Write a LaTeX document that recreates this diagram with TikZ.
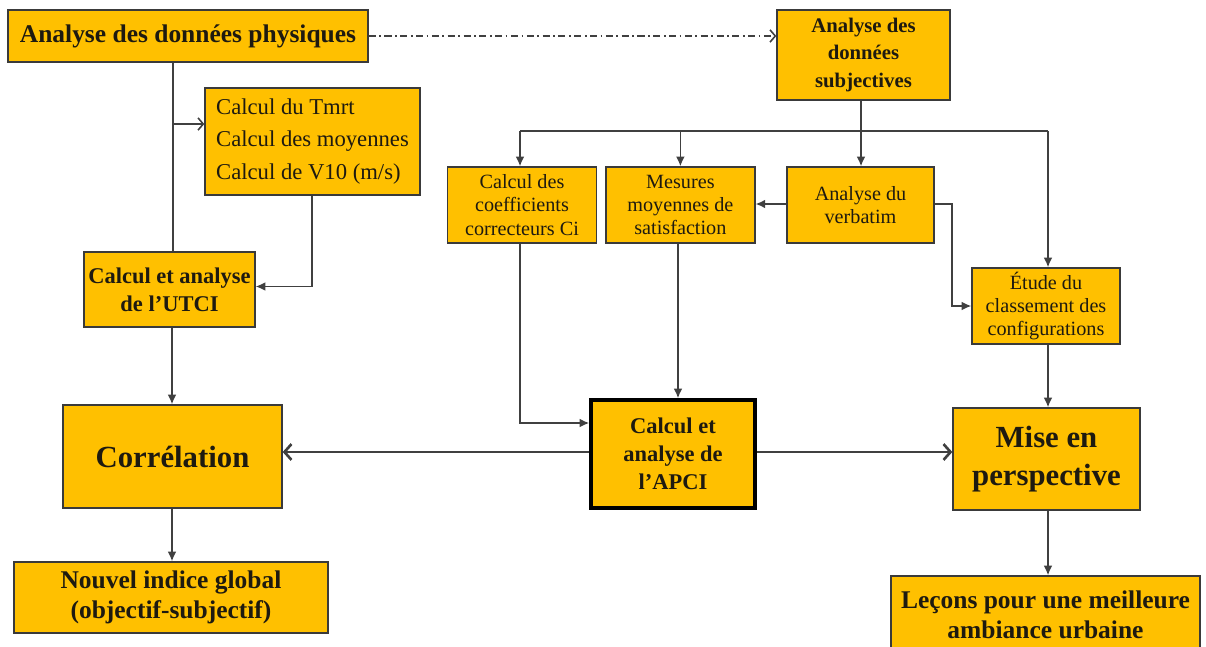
\documentclass[tikz,border=0pt]{standalone}
\usepackage{fontspec}
\setmainfont{Liberation Serif}
\usepackage{xcolor}
\usetikzlibrary{positioning,arrows.meta}

\definecolor{boxfill}{HTML}{FFC000}
\definecolor{boxline}{HTML}{3A3A3A}
\definecolor{linkgray}{HTML}{404040}
\definecolor{inktext}{HTML}{1E1A10}

\newcommand{\fsbig}{\fontsize{17.5}{21.5}\bfseries\selectfont}
\newcommand{\fstitle}{\fontsize{14.5}{16.8}\bfseries\selectfont}
\newcommand{\fsmid}{\fontsize{12.8}{16}\bfseries\selectfont}
\newcommand{\fssub}{\fontsize{11.8}{15.6}\bfseries\selectfont}
\newcommand{\fslist}{\fontsize{12.9}{18.3}\selectfont}
\newcommand{\fssmall}{\fontsize{11.5}{13.3}\selectfont}

\begin{document}
\begin{tikzpicture}[x=0.02cm, y=-0.02cm,
    block/.style={rectangle, draw=boxline, fill=boxfill, text=inktext, align=center, inner sep=2pt, line width=0.8pt},
    small/.style={block, minimum width=2.98cm, minimum height=1.52cm, font=\fssmall},
    link/.style={draw=linkgray, line width=0.9pt, -{Latex[length=5.5pt,width=5pt]}},
    plain/.style={draw=linkgray, line width=0.9pt},
    heavy/.style={draw=linkgray, line width=1.5pt, -{Straight Barb[length=4pt,width=9pt]}}]

    \useasboundingbox (0,0) rectangle (1206,646);
    \clip (0,0) rectangle (1206,646);

    % physical data branch
    \node [block, minimum width=7.2cm, minimum height=1.04cm, font=\fstitle] (phys) at (188,36) {Analyse des données physiques};
    \node [block, align=left, minimum width=4.3cm, minimum height=2.14cm, font=\fslist] (tmrt) at (312.5,141.5) {Calcul du Tmrt\\Calcul des moyennes\\Calcul de V10 (m/s)};
    \node [block, minimum width=3.42cm, minimum height=1.5cm, font=\fsmid] (utci) at (169.5,289.5) {Calcul et analyse\\de l’UTCI};
    \node [block, minimum width=4.38cm, minimum height=2.06cm, font=\fsbig] (corr) at (172.5,456.5) {Corrélation};
    \node [block, minimum width=6.28cm, minimum height=1.42cm, font=\fstitle] (indice) at (171,597.5) {Nouvel indice global\\(objectif-subjectif)};

    % subjective data branch
    \node [block, minimum width=3.46cm, minimum height=1.8cm, font=\fssub] (subj) at (863.5,55) {Analyse des\\données\\subjectives};
    \node [small] (coef) at (522,205) {Calcul des\\coefficients\\correcteurs Ci};
    \node [small, right=0.16cm of coef] (satis) {Mesures\\moyennes de\\satisfaction};
    \node [small, minimum width=2.94cm] (verb) at (860.5,205) {Analyse du\\verbatim};
    \node [small, minimum width=2.96cm] (classe) at (1046,306) {Étude du\\classement des\\configurations};
    \node [block, line width=2pt, draw=black, minimum width=3.28cm, minimum height=2.16cm, font=\fsmid] (apci) at (673,454) {Calcul et\\analyse de\\l’APCI};
    \node [block, minimum width=3.74cm, minimum height=2.04cm, font=\fsbig] (mise) at (1046.5,459) {Mise en\\perspective};
    \node [block, minimum width=6.18cm, minimum height=1.56cm, font=\fstitle] (lecons) at (1045.5,615) {Leçons pour une meilleure\\ambiance urbaine};

    \coordinate (trunk) at (173,124);
    \coordinate (spine) at (172,0);
    \coordinate (fork) at (520,131);
    \coordinate (drop) at (1048,131);
    \coordinate (stem) at (861,0);

    \draw [plain, dash pattern=on 4pt off 2pt on 1pt off 2pt, -{Straight Barb[length=3pt,width=7pt]}] (phys) -- (subj.west |- phys);
    \draw [plain] (phys.south -| trunk) -- (utci.north -| trunk);
    \draw [plain, -{Straight Barb[length=3pt,width=7pt]}] (trunk) -- (trunk -| tmrt.west);
    \draw [link] (tmrt.south -| 312,0) |- ([yshift=0.06cm]utci.east);
    \draw [link] (utci.south -| spine) -- (corr.north -| spine);
    \draw [link] (corr.south -| spine) -- (indice.north -| spine);

    \draw [link] (subj.south -| stem) -- (verb.north -| stem);
    \draw [plain] (fork) -- (drop);
    \draw [link] (fork) -- (fork |- coef.north);
    \draw [link] (fork -| satis) -- (satis);
    \draw [link] (drop) -- (drop |- classe.north);
    \draw [link] (verb.west |- 0,204) -- (satis.east |- 0,204);
    \draw [link] (verb.east |- 0,204) -- (952,204) |- (classe.west);
    \draw [link] (coef.south -| fork) |- (apci.west |- 0,423);
    \draw [link] (satis.south -| 678,0) -- (apci.north -| 678,0);
    \draw [link] (classe.south -| drop) -- (mise.north -| drop);
    \draw [heavy] (apci.west |- 0,452) -- (corr.east |- 0,452);
    \draw [heavy] (apci.east |- 0,452) -- (mise.west |- 0,452);
    \draw [link] (mise.south -| drop) -- (lecons.north -| drop);
\end{tikzpicture}
\end{document}
